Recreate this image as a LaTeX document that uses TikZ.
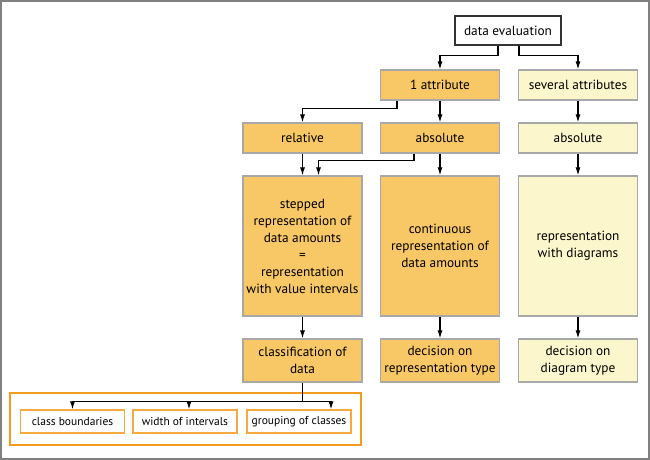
\documentclass[tikz,border=0pt]{standalone}
\usepackage{fontspec}
\setmainfont{PT Sans}
\usetikzlibrary{arrows.meta}
\definecolor{orfill}{HTML}{F9C866}
\definecolor{yefill}{HTML}{FBF6CB}
\definecolor{bxline}{HTML}{A8A8A8}
\definecolor{frameor}{HTML}{F39C1F}
\definecolor{smallor}{HTML}{F5A940}
\definecolor{outer}{HTML}{808080}
\tikzset{
  box/.style={draw=bxline, line width=1.2pt, minimum width=119pt, align=center, inner sep=1pt, font=\fontsize{13.3}{17}\selectfont},
  orbox/.style={box, fill=orfill},
  yebox/.style={box, fill=yefill},
  topbox/.style={draw=black!80, line width=1.3pt, fill=white, minimum width=106pt, minimum height=29pt, inner sep=1pt, font=\fontsize{13.3}{17}\selectfont},
  smallbox/.style={draw=smallor, line width=1.2pt, fill=white, minimum width=104pt, minimum height=23pt, inner sep=1pt, font=\fontsize{11.5}{13}\selectfont},
  arr/.style={line width=1.1pt, -{Latex[length=8pt,width=5pt]}},
  ln/.style={line width=1.1pt}
}
\begin{document}
\begin{tikzpicture}[x=1pt,y=-1pt]
\useasboundingbox (0,0) rectangle (650,460);
\draw[outer, line width=2pt] (1,1) rectangle (649,459);
% nodes
\node[topbox] (de) at (508,30.5) {data evaluation};
\node[orbox, minimum height=30pt] (a1) at (440,85) {1 attribute};
\node[yebox, minimum height=30pt] (sev) at (578,85) {several attributes};
\node[orbox, minimum height=30pt] (rel) at (302.5,138) {relative};
\node[orbox, minimum height=30pt] (absm) at (440,138) {absolute};
\node[yebox, minimum height=30pt] (absr) at (578,138) {absolute};
\node[orbox, minimum height=140pt] (step) at (302.5,246) {stepped\\representation of\\data amounts\\=\\representation\\with value intervals};
\node[orbox, minimum height=140pt] (cont) at (440,246) {continuous\\representation of\\data amounts};
\node[yebox, minimum height=140pt] (repd) at (578,246) {representation\\with diagrams};
\node[orbox, minimum height=43pt] (cls) at (302.5,360.5) {classification of\\data};
\node[orbox, minimum height=43pt] (decr) at (440,360.5) {decision on\\representation type};
\node[yebox, minimum height=43pt] (decd) at (578,360.5) {decision on\\diagram type};
\draw[frameor, line width=2pt] (10,393) rectangle (361,445);
\node[smallbox] (cb) at (72.5,421.5) {class boundaries};
\node[smallbox] (wi) at (185,421.5) {width of intervals};
\node[smallbox] (gc) at (299,421.5) {grouping of classes};
% connectors
\draw[arr] ([xshift=-10pt]de.south) -- ++(0,10) -| (a1.north);
\draw[arr] ([xshift=11pt]de.south) -- ++(0,10) -| (sev.north);
\draw[arr] ([xshift=-43pt]a1.south) -- ++(0,8) -| (rel.north);
\draw[arr] (a1) -- (absm);
\draw[arr] (sev) -- (absr);
\draw[arr] (rel) -- (step);
\draw[arr] ([xshift=-26pt]absm.south) -- ++(0,7) -| ([xshift=16pt]step.north);
\draw[arr] (absm) -- (cont);
\draw[arr] (absr) -- (repd);
\draw[arr] (step) -- (cls);
\draw[arr] (cont) -- (decr);
\draw[arr] (repd) -- (decd);
\draw[ln] (cls.south) -- ++(0,19) coordinate (h);
\draw[arr] (h) -| (cb.north);
\draw[arr] (h) -| ([xshift=32pt]gc.north);
\draw[arr] ([xshift=4pt]wi.north |- h) -- ([xshift=4pt]wi.north);
\end{tikzpicture}
\end{document}
